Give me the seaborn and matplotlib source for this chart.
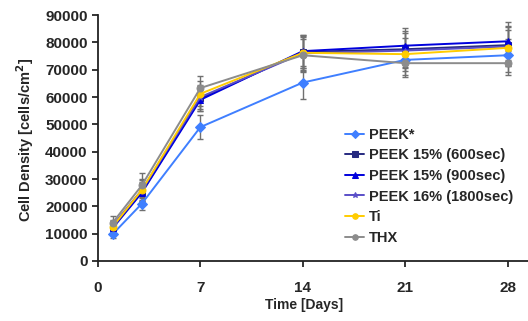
import pandas as pd
import seaborn as sns
import matplotlib.pyplot as plt

# values
days = [1, 3, 7, 14, 21, 28]
series = ['PEEK*', 'PEEK 15% (600sec)', 'PEEK 15% (900sec)', 'PEEK 16% (1800sec)', 'Ti', 'THX']
peek = [9800, 21000, 49000, 65300, 73600, 75300]
peek_600 = [12500, 25300, 59500, 76500, 77500, 79000]
peek_900 = [12000, 25000, 59000, 76800, 78800, 80400]
peek_1800 = [13000, 26000, 60000, 76000, 77000, 78500]
ti = [12500, 26000, 61200, 76200, 75700, 78000]
thx = [14000, 27700, 63300, 75300, 72400, 72400]

peek_sd = [1500, 2500, 4500, 6000, 5500, 6000]
peek_600_sd = [2000, 3500, 4500, 6000, 6500, 7000]
peek_900_sd = [2000, 3500, 4000, 6000, 6500, 7000]
peek_1800_sd = [2000, 3500, 4500, 6000, 6500, 7000]
ti_sd = [2000, 4000, 4500, 6500, 6000, 6500]
thx_sd = [2400, 4500, 4300, 6000, 5000, 4500]

values = [peek, peek_600, peek_900, peek_1800, ti, thx]
sds = [peek_sd, peek_600_sd, peek_900_sd, peek_1800_sd, ti_sd, thx_sd]

colors = ['#3f7fff', '#262a80', '#0000dd', '#5a4fc8', '#ffcc00', '#8c8c8c']
markers = ['D', 's', '^', '*', 'o', 'o']

rows = []
for name, vals, sd in zip(series, values, sds):
    for d, v, s in zip(days, vals, sd):
        rows.append({'day': d, 'density': v, 'sd': s, 'series': name})
df = pd.DataFrame(rows)

sns.set_style('ticks')
plt.rcParams['font.family'] = ['Liberation Sans', 'DejaVu Sans']
plt.rcParams['font.weight'] = 'bold'

fig = plt.figure(figsize=(5.28, 3.21), dpi=100)
ax = fig.add_axes([0.1856, 0.187, 0.8144, 0.766])

# gray error bars behind the lines
for name in series:
    sub = df[df['series'] == name]
    ax.errorbar(sub['day'], sub['density'], yerr=sub['sd'], fmt='none',
                ecolor='#707070', elinewidth=1, capsize=2.5, capthick=1, zorder=1)

n_before = len(ax.get_lines())
sns.lineplot(data=df, x='day', y='density', hue='series', style='series',
             hue_order=series, style_order=series,
             palette=dict(zip(series, colors)), markers=dict(zip(series, markers)),
             dashes=False, markersize=5, linewidth=1.4, ax=ax, zorder=3)
# markers in the line colour, not white-edged
for line in ax.get_lines()[n_before:]:
    line.set_markeredgecolor(line.get_color())

ax.set_xlim(0, 29.4)
ax.set_ylim(0, 90000)
ax.set_xticks([0, 7, 14, 21, 28])
ax.set_yticks(range(0, 90001, 10000))
ax.tick_params(labelsize=11, length=4, width=1.3, direction='out')
ax.tick_params(axis='x', pad=10.5)
for lab in ax.get_xticklabels() + ax.get_yticklabels():
    lab.set_fontweight('bold')

sns.despine(ax=ax)
for sp in ['left', 'bottom']:
    ax.spines[sp].set_linewidth(1.3)
    ax.spines[sp].set_color('#222222')

ax.set_xlabel('Time [Days]', fontsize=10, fontweight='bold')
ax.set_ylabel('Cell Density [cells/cm$^\\mathbf{2}$]', fontsize=10.5, fontweight='bold')
ax.xaxis.set_label_coords(0.479, -0.150)
ax.yaxis.set_label_coords(-0.145, 0.492)

leg = ax.legend(loc='upper left', bbox_to_anchor=(0.643, 0.62), bbox_transform=fig.transFigure,
                frameon=False, handlelength=1.3, handletextpad=0.3,
                labelspacing=0.45, borderaxespad=0, prop={'weight': 'bold', 'size': 10.5})
for h in leg.get_lines():
    h.set_markeredgecolor(h.get_color())
    h.set_markersize(4)

fig.savefig('out.png', dpi=100)
